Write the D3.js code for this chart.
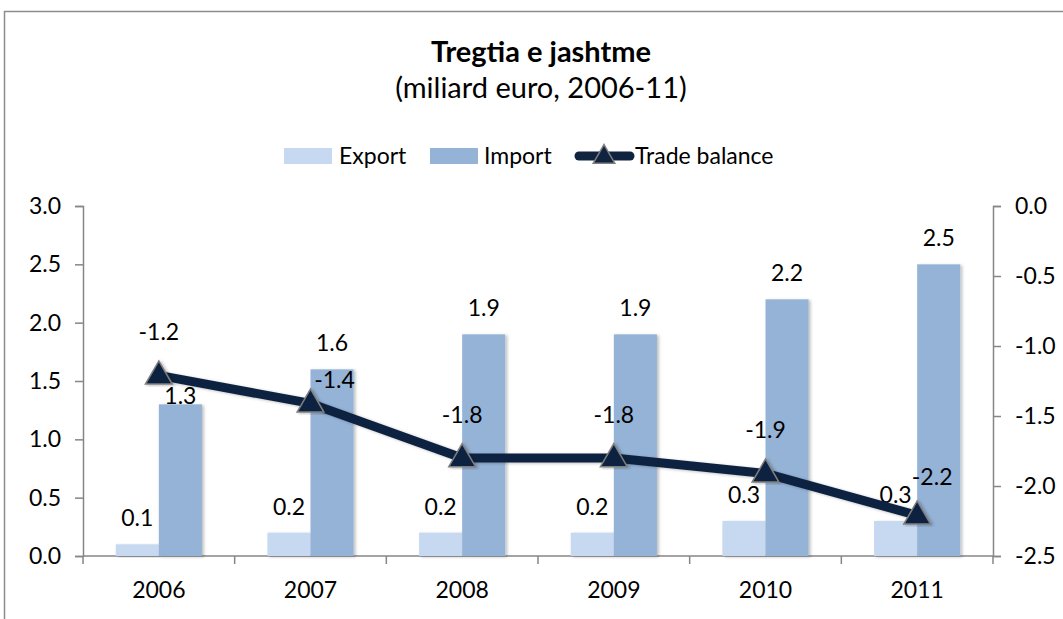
<!DOCTYPE html>
<html>
<head>
<meta charset="utf-8">
<script src="https://cdn.jsdelivr.net/npm/d3@7"></script>
<style>
  body { margin: 0; background: #fff; }
  svg { display: block; font-family: 'Lato', 'Open Sans', sans-serif; }
</style>
</head>
<body>
<div id="chart"></div>
<script>
const years = ['2006', '2007', '2008', '2009', '2010', '2011'];
const exportVals = [0.1, 0.2, 0.2, 0.2, 0.3, 0.3];
const importVals = [1.3, 1.6, 1.9, 1.9, 2.2, 2.5];
const balanceVals = [-1.21, -1.41, -1.8, -1.8, -1.91, -2.21];
const leftTicks = [0, 0.5, 1, 1.5, 2, 2.5, 3];
const rightTicks = [0, -0.5, -1, -1.5, -2, -2.5];

const COLORS = {
  export: '#c6d9f1',
  import: '#95b3d7',
  line: '#10243f',
  marker: '#7f7f7f',
  axis: '#868686',
  text: '#000'
};

const width = 1063, height = 619;
const plot = { left: 83, right: 993, top: 206, bottom: 556 };
const NUM_SIZE = '23px';

const svg = d3.select('#chart').append('svg')
  .attr('width', width)
  .attr('height', height);

// chart frame (runs off the bottom/right edges)
svg.append('rect')
  .attr('x', 4.5).attr('y', 11.5)
  .attr('width', 1200).attr('height', 800)
  .attr('fill', 'none')
  .attr('stroke', '#8c8c8c')
  .attr('stroke-width', 1.5);

const defs = svg.append('defs');
const shadow = defs.append('filter').attr('id', 'shadow')
  .attr('x', '-20%').attr('y', '-5%').attr('width', '150%').attr('height', '115%');
shadow.append('feDropShadow')
  .attr('dx', 2).attr('dy', 1).attr('stdDeviation', 1.5)
  .attr('flood-color', '#000').attr('flood-opacity', 0.25);

// title
svg.append('text')
  .attr('x', 541).attr('y', 62)
  .attr('text-anchor', 'middle')
  .style('font-size', '29px').style('font-weight', '700')
  .text('Tregtia e jashtme');
svg.append('text')
  .attr('x', 541).attr('y', 98)
  .attr('text-anchor', 'middle')
  .style('font-size', '29px')
  .text('(miliard euro, 2006-11)');

// scales
const x0 = d3.scaleBand().domain(years).range([plot.left, plot.right]).padding(0);
const x1 = d3.scaleBand().domain(['export', 'import'])
  .range([0, x0.bandwidth()]).paddingInner(0).paddingOuter(0.76);
const yLeft = d3.scaleLinear().domain([0, 3]).range([plot.bottom, plot.top]);
const yRight = d3.scaleLinear().domain([-2.5, 0]).range([plot.bottom, plot.top]);

// plain hyphen for negatives, like the original
const fmt = d3.formatLocale({ decimal: '.', thousands: ',', grouping: [3], currency: ['', ''], minus: '-' }).format('.1f');

const axisStyle = g => {
  g.select('.domain').attr('stroke', COLORS.axis).attr('stroke-width', 1.5);
  g.selectAll('.tick line').attr('stroke', COLORS.axis).attr('stroke-width', 1.5);
  g.selectAll('.tick text').attr('fill', COLORS.text).style('font-size', NUM_SIZE).style('font-family', 'Lato, sans-serif');
};

svg.append('g')
  .attr('transform', `translate(${plot.left},0)`)
  .call(d3.axisLeft(yLeft).tickValues(leftTicks).tickFormat(fmt).tickSize(8).tickSizeOuter(8).tickPadding(14))
  .call(axisStyle);

svg.append('g')
  .attr('transform', `translate(${plot.right},0)`)
  .call(d3.axisRight(yRight).tickValues(rightTicks).tickFormat(fmt).tickSize(8).tickSizeOuter(8).tickPadding(14))
  .call(axisStyle);

// x axis: ticks at the category boundaries
const xAxis = svg.append('g').attr('transform', `translate(0,${plot.bottom})`);
xAxis.append('line')
  .attr('x1', plot.left).attr('x2', plot.right + 1)
  .attr('stroke', COLORS.axis).attr('stroke-width', 1.5);
xAxis.selectAll('.bound')
  .data(years.concat(['end']))
  .join('line')
  .attr('class', 'bound')
  .attr('x1', (d, i) => plot.left + i * x0.step())
  .attr('x2', (d, i) => plot.left + i * x0.step())
  .attr('y1', 0).attr('y2', 8)
  .attr('stroke', COLORS.axis).attr('stroke-width', 1.5);
xAxis.selectAll('.year')
  .data(years)
  .join('text')
  .attr('class', 'year')
  .attr('x', d => x0(d) + x0.bandwidth() / 2)
  .attr('y', 42)
  .attr('text-anchor', 'middle')
  .style('font-size', NUM_SIZE)
  .text(d => d);

// bars
const barData = [];
years.forEach((yr, i) => {
  barData.push({ yr, key: 'export', v: exportVals[i], i });
  barData.push({ yr, key: 'import', v: importVals[i], i });
});

svg.append('g').selectAll('rect')
  .data(barData)
  .join('rect')
  .attr('x', d => x0(d.yr) + x1(d.key))
  .attr('y', d => yLeft(d.v))
  .attr('width', x1.bandwidth())
  .attr('height', d => yLeft(0) - yLeft(d.v))
  .attr('fill', d => COLORS[d.key])
  .attr('filter', 'url(#shadow)');

// bar labels (one moved by hand in the original)
const barNudge = { 'import-0': 18 };
svg.append('g').selectAll('text')
  .data(barData)
  .join('text')
  .attr('x', d => x0(d.yr) + x1(d.key) + x1.bandwidth() / 2)
  .attr('y', d => yLeft(d.v) - 18 + (barNudge[`${d.key}-${d.i}`] || 0))
  .attr('text-anchor', 'middle')
  .style('font-size', NUM_SIZE)
  .text(d => fmt(d.v));

// trade balance line
const pts = years.map((yr, i) => ({ x: x0(yr) + x0.bandwidth() / 2, y: yRight(balanceVals[i]), v: balanceVals[i], i }));

svg.append('path')
  .datum(pts)
  .attr('d', d3.line().x(d => d.x).y(d => d.y))
  .attr('fill', 'none')
  .attr('stroke', COLORS.line)
  .attr('stroke-width', 9)
  .attr('stroke-linejoin', 'round')
  .attr('filter', 'url(#shadow)');

const tri = d3.symbol().type(d3.symbolTriangle).size(310);
svg.append('g').selectAll('path')
  .data(pts)
  .join('path')
  .attr('transform', d => `translate(${d.x},${d.y + 1})`)
  .attr('d', tri)
  .attr('fill', COLORS.line)
  .attr('stroke', COLORS.marker)
  .attr('stroke-width', 1.5)
  .attr('filter', 'url(#shadow)');

// line labels (two were dragged off the default spot)
const lineNudge = { 1: [24, 20], 5: [15, 5] };
svg.append('g').selectAll('text')
  .data(pts)
  .join('text')
  .attr('x', d => d.x + (lineNudge[d.i] ? lineNudge[d.i][0] : 0))
  .attr('y', d => d.y - 35 + (lineNudge[d.i] ? lineNudge[d.i][1] : 0))
  .attr('text-anchor', 'middle')
  .style('font-size', NUM_SIZE)
  .text(d => fmt(Math.round(d.v * 10) / 10));

// legend
const legend = svg.append('g').attr('transform', 'translate(0,156)');
legend.append('rect').attr('x', 284).attr('y', -8).attr('width', 48).attr('height', 16).attr('fill', COLORS.export);
legend.append('text').attr('x', 339).attr('y', 8).style('font-size', '23px').text('Export');
legend.append('rect').attr('x', 430).attr('y', -8).attr('width', 48).attr('height', 16).attr('fill', COLORS.import);
legend.append('text').attr('x', 484).attr('y', 8).style('font-size', '23px').text('Import');
legend.append('line')
  .attr('x1', 579).attr('x2', 630).attr('y1', 0).attr('y2', 0)
  .attr('stroke', COLORS.line).attr('stroke-width', 9).attr('stroke-linecap', 'round');
legend.append('path')
  .attr('transform', 'translate(604,1)')
  .attr('d', d3.symbol().type(d3.symbolTriangle).size(200))
  .attr('fill', COLORS.line).attr('stroke', COLORS.marker).attr('stroke-width', 1.5);
legend.append('text').attr('x', 635).attr('y', 8).style('font-size', '23px').text('Trade balance');
</script>
</body>
</html>
